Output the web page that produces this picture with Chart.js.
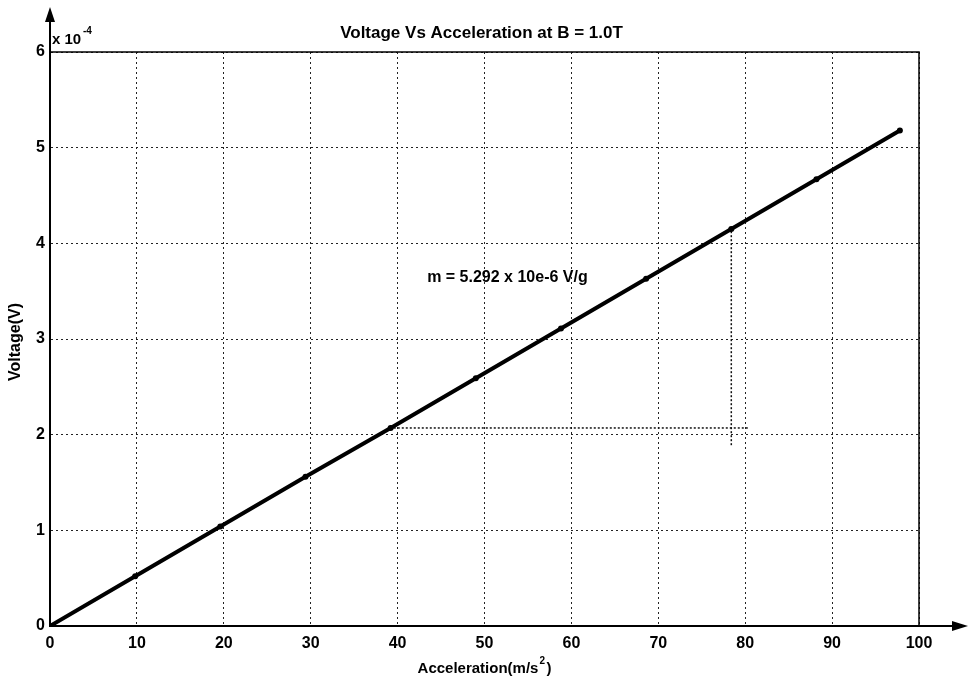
<!DOCTYPE html>
<html>
<head>
<meta charset="utf-8">
<script src="https://cdn.jsdelivr.net/npm/chart.js@4"></script>
<style>
  html, body { margin: 0; padding: 0; background: #fff; }
  #wrap { width: 969px; height: 685px; }
</style>
</head>
<body>
<div id="wrap"><canvas id="chart" width="969" height="685"></canvas></div>
<script>
// acceleration (m/s^2) and voltage (x 10^-4 V)
const accel   = [0, 9.8, 19.6, 29.4, 39.2, 49, 58.8, 68.6, 78.4, 88.2, 97.8];
const voltage = [0, 0.52, 1.04, 1.56, 2.07, 2.59, 3.11, 3.63, 4.15, 4.67, 5.18];

// dotted slope triangle
const guideH = [{ x: 39.1, y: 2.07 }, { x: 80.3, y: 2.07 }];
const guideV = [{ x: 78.4, y: 1.89 }, { x: 78.4, y: 4.16 }];

const xTicks = [0, 10, 20, 30, 40, 50, 60, 70, 80, 90, 100];
const yTicks = [0, 1, 2, 3, 4, 5, 6];

const titleText = 'Voltage Vs Acceleration at B = 1.0T';
const slopeText = 'm = 5.292 x 10e-6 V/g';
const slopeAt   = { x: 43.4, y: 3.64 };

const FONT = '"Liberation Sans", Arial, sans-serif';

const decor = {
  id: 'decor',
  afterDraw(chart) {
    const { ctx, chartArea: a, scales } = chart;
    ctx.save();
    ctx.strokeStyle = '#000';
    ctx.fillStyle = '#000';
    // box
    ctx.lineWidth = 1.5;
    ctx.strokeRect(a.left, a.top, a.right - a.left, a.bottom - a.top);
    // axis arrows
    ctx.lineWidth = 2;
    ctx.beginPath();
    ctx.moveTo(a.left, a.top);
    ctx.lineTo(a.left, 12);
    ctx.moveTo(a.right, a.bottom);
    ctx.lineTo(960, a.bottom);
    ctx.stroke();
    ctx.beginPath();
    ctx.moveTo(a.left, 7); ctx.lineTo(a.left - 5, 22); ctx.lineTo(a.left + 5, 22); ctx.closePath();
    ctx.fill();
    ctx.beginPath();
    ctx.moveTo(968, a.bottom); ctx.lineTo(952, a.bottom - 5); ctx.lineTo(952, a.bottom + 5); ctx.closePath();
    ctx.fill();

    const cx = (a.left + a.right) / 2;

    // title
    ctx.font = 'bold 17px ' + FONT;
    ctx.textAlign = 'center';
    ctx.textBaseline = 'middle';
    ctx.fillText(titleText, cx - 3, 33);

    // exponent
    ctx.textAlign = 'left';
    ctx.font = 'bold 15px ' + FONT;
    ctx.fillText('x 10', a.left + 2, 40);
    ctx.font = 'bold 10px ' + FONT;
    ctx.fillText('-4', a.left + 33, 31);

    // slope note
    ctx.font = 'bold 16px ' + FONT;
    ctx.fillText(slopeText, scales.x.getPixelForValue(slopeAt.x), scales.y.getPixelForValue(slopeAt.y));

    // axis titles
    ctx.font = 'bold 15px ' + FONT;
    const lbl = 'Acceleration(m/s';
    const w1 = ctx.measureText(lbl).width;
    const wp = ctx.measureText(')').width;
    const total = w1 + 8 + wp;
    let x0 = cx - total / 2;
    ctx.fillText(lbl, x0, 669);
    ctx.font = 'bold 10px ' + FONT;
    ctx.fillText('2', x0 + w1 + 1, 661);
    ctx.font = 'bold 15px ' + FONT;
    ctx.fillText(')', x0 + w1 + 8, 669);

    ctx.translate(16, 342);
    ctx.rotate(-Math.PI / 2);
    ctx.textAlign = 'center';
    ctx.font = 'bold 16px ' + FONT;
    ctx.fillText('Voltage(V)', 0, 0);
    ctx.restore();
  }
};

new Chart(document.getElementById('chart'), {
  type: 'scatter',
  data: {
    datasets: [
      {
        data: accel.map((x, i) => ({ x, y: voltage[i] })),
        showLine: true,
        borderColor: '#000',
        backgroundColor: '#000',
        borderWidth: 4,
        pointRadius: 3,
        pointBorderWidth: 0
      },
      {
        data: guideH,
        showLine: true,
        borderColor: '#111',
        borderWidth: 1.5,
        borderDash: [2, 2],
        pointRadius: 0
      },
      {
        data: guideV,
        showLine: true,
        borderColor: '#111',
        borderWidth: 1.5,
        borderDash: [2, 2],
        pointRadius: 0
      }
    ]
  },
  options: {
    responsive: false,
    animation: false,
    layout: { padding: { top: 52, right: 50, left: 0, bottom: 0 } },
    plugins: { legend: { display: false }, tooltip: { enabled: false } },
    scales: {
      x: {
        type: 'linear',
        min: 0, max: 100,
        afterBuildTicks: s => { s.ticks = xTicks.map(v => ({ value: v })); },
        afterFit: s => { s.height = 59; },
        grid: { color: '#222', lineWidth: 1, drawTicks: false },
        border: { display: true, color: '#000', width: 2, dash: [2, 3] },
        ticks: { color: '#000', padding: 8, font: { family: FONT, size: 16, weight: 'bold' } }
      },
      y: {
        type: 'linear',
        min: 0, max: 6,
        afterBuildTicks: s => { s.ticks = yTicks.map(v => ({ value: v })); },
        afterFit: s => { s.width = 50; },
        grid: { color: '#222', lineWidth: 1, drawTicks: false },
        border: { display: true, color: '#000', width: 2, dash: [2, 3] },
        ticks: { color: '#000', padding: 5, font: { family: FONT, size: 16, weight: 'bold' } }
      }
    }
  },
  plugins: [decor]
});
</script>
</body>
</html>
